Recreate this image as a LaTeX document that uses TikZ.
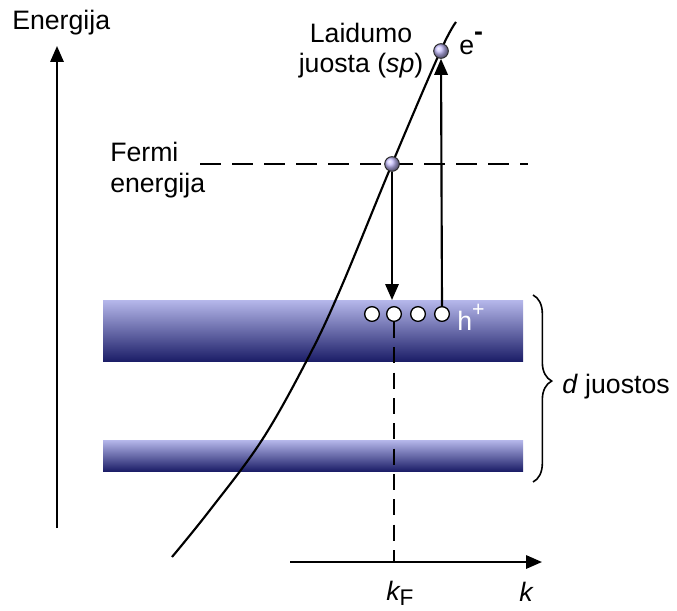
\documentclass[tikz,border=0pt]{standalone}
\usepackage{fontspec}
\setmainfont{Liberation Sans}
\usetikzlibrary{arrows.meta,decorations.pathreplacing,calc}
\definecolor{ballc}{RGB}{196,188,252}
\definecolor{bandtop}{RGB}{182,184,235}
\definecolor{bandmid}{RGB}{88,98,186}
\definecolor{bandbot}{RGB}{28,30,104}
\begin{document}
\begin{tikzpicture}[x=0.75pt,y=-0.75pt,
  lbl/.style={font=\fontsize{20}{22.5}\selectfont, inner sep=0pt},
  arr/.style={line width=1.6pt,-{Triangle[length=12pt,width=10pt]}},
  axisline/.style={line width=1.6pt,-{Triangle[length=12pt,width=10pt]}},
  ballnode/.style={circle, minimum size=11pt, inner sep=0pt, draw=black!85, line width=0.7pt, shading=ball, ball color=ballc},
  holenode/.style={circle, minimum size=11pt, inner sep=0pt, draw=black, line width=1pt, fill=white},
  bandrect/.style={shading=axis, top color=bandtop, middle color=bandmid, bottom color=bandbot, draw=none},
  curveline/.style={line width=1.6pt},
  fermidash/.style={line width=1.5pt, dash pattern=on 16pt off 8pt},
  kdash/.style={line width=1.5pt, dash pattern=on 12pt off 7pt}
]
\useasboundingbox (0,0) rectangle (677,610);

% bands
\shade[bandrect] (103,300) rectangle (523,361);
\shade[bandrect] (103,440) rectangle (523,471);

% energy axis
\coordinate (e0) at (57,528);
\coordinate (e1) at (57,46);
\draw[axisline] (e0) -- (e1);
\node[lbl, anchor=base west] (energ) at (12,30) {Energija};

% k axis
\coordinate (k0) at (290,562);
\coordinate (k1) at (542,562);
\draw[axisline] (k0) -- (k1);
\node[lbl, anchor=base west] (klbl) at (519,601) {\itshape k};
\node[lbl, anchor=base west] (kflbl) at (386,600) {\itshape k\raisebox{-0.22em}{\upshape\fontsize{17}{17}\selectfont F}};

% Fermi line
\coordinate (f0) at (200,164);
\coordinate (f1) at (528,164);
\draw[fermidash] (f0) -- (f1);
\node[lbl, anchor=base west] (fermi1) at (110,161) {Fermi};
\node[lbl, anchor=base west] (fermi2) at (110,192) {energija};

% curve
\draw[curveline] plot[smooth, tension=0.6] coordinates {(172,557) (210,510) (262,440) (307,360) (340,290) (392,164) (440,52) (456,22)};

% holes
\node[holenode] (h1) at (372,314) {};
\node[holenode] (h2) at (394,314) {};
\node[holenode] (h3) at (418,314) {};
\node[holenode] (h4) at (442,314) {};
\node[lbl, anchor=base west, text=white] (hplus) at (457,330) {h\raisebox{0.5em}{\fontsize{16}{16}\selectfont +}};

% dots
\node[ballnode] (fdot) at (392,164) {};
\node[ballnode] (edot) at (441,51) {};

% dashed k_F line
\draw[kdash] (h2.south) -- (h2.south |- k0);

% transitions
\draw[arr, shorten >=4.5pt] (fdot.south) -- (fdot.south |- h2.north);
\draw[arr] (h4.north) -- (edot.south);

% labels top
\node[lbl, anchor=base] (laid1) at (361,43) {Laidumo};
\node[lbl, anchor=base] (laid2) at (361,72) {juosta (\textit{sp})};
\node[lbl, anchor=base west] (elbl) at (459,55) {e\raisebox{0.55em}{\bfseries -}};

% brace
\coordinate (b0) at (533,295);
\coordinate (b1) at (533,482);
\draw[line width=1.2pt, decorate, decoration={brace, amplitude=14pt, aspect=0.46}] (b0) -- (b1);
\node[lbl, anchor=base west] (dlbl) at (562,393) {\textit{d} juostos};
\end{tikzpicture}
\end{document}
